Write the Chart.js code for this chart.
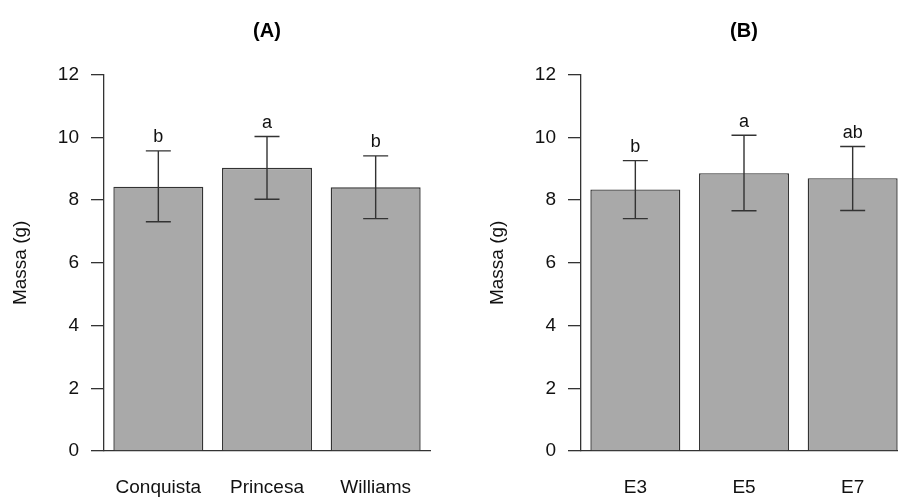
<!DOCTYPE html>
<html>
<head>
<meta charset="utf-8">
<script src="https://cdn.jsdelivr.net/npm/chart.js@4"></script>
<style>
  html, body { margin: 0; padding: 0; background: #fff; }
  #wrap { position: relative; width: 898px; height: 497px; overflow: hidden; }
  canvas { position: absolute; top: 0; }
  #chartA { left: 0; }
  #chartB { left: 477px; }
</style>
</head>
<body>
<div id="wrap">
  <canvas id="chartA" width="449" height="497"></canvas>
  <canvas id="chartB" width="449" height="497"></canvas>
</div>
<script>
// Panel A - cultivars
const cultivars = ['Conquista', 'Princesa', 'Williams'];
const massA = [8.43, 9.03, 8.41];
const lowerA = [7.31, 8.03, 7.41];
const upperA = [9.57, 10.03, 9.41];
const lettersA = ['b', 'a', 'b'];

// Panel B - stages
const stages = ['E3', 'E5', 'E7'];
const massB = [8.34, 8.86, 8.70];
const lowerB = [7.41, 7.66, 7.67];
const upperB = [9.26, 10.07, 9.71];
const lettersB = ['b', 'a', 'ab'];

const yTicks = [0, 2, 4, 6, 8, 10, 12];

Chart.defaults.font.family = '"Liberation Sans", Arial, sans-serif';

const ink = '#333';

// error bars, significance letters and panel title
const extras = {
    id: 'extras',
    afterDatasetsDraw(chart, args, opts) {
        const ctx = chart.ctx;
        const y = chart.scales.y;
        const meta = chart.getDatasetMeta(0);
        ctx.save();
        ctx.strokeStyle = ink;
        ctx.lineWidth = 1.4;
        ctx.fillStyle = '#111';
        ctx.textAlign = 'center';
        meta.data.forEach((bar, i) => {
            const x = bar.x;
            const yl = y.getPixelForValue(opts.lower[i]);
            const yu = y.getPixelForValue(opts.upper[i]);
            ctx.beginPath();
            ctx.moveTo(x, yl); ctx.lineTo(x, yu);
            ctx.moveTo(x - 12.5, yl); ctx.lineTo(x + 12.5, yl);
            ctx.moveTo(x - 12.5, yu); ctx.lineTo(x + 12.5, yu);
            ctx.stroke();
            ctx.font = '18px "Liberation Sans", Arial, sans-serif';
            ctx.textBaseline = 'alphabetic';
            ctx.fillText(opts.letters[i], x, yu - 8.5);
        });
        const a = chart.chartArea;
        ctx.font = 'bold 20px "Liberation Sans", Arial, sans-serif';
        ctx.textBaseline = 'middle';
        ctx.fillStyle = '#000';
        ctx.fillText(opts.title, (a.left + a.right) / 2, 31);
        ctx.restore();
    }
};

function makeChart(id, labels, values, lower, upper, letters, title) {
    return new Chart(document.getElementById(id), {
        type: 'bar',
        data: {
            labels: labels,
            datasets: [{
                data: values,
                backgroundColor: '#a9a9a9',
                borderColor: ink,
                borderWidth: 1.4,
                barPercentage: 0.828,
                categoryPercentage: 1
            }]
        },
        options: {
            responsive: false,
            animation: false,
            layout: { padding: { top: 74.7, left: 0, right: 19, bottom: 0 } },
            plugins: {
                legend: { display: false },
                tooltip: { enabled: false },
                extras: { lower: lower, upper: upper, letters: letters, title: title }
            },
            scales: {
                x: {
                    grid: { display: false, drawTicks: false },
                    border: { display: true, color: ink, width: 1.3 },
                    ticks: {
                        color: '#111',
                        font: { size: 19 },
                        padding: 25,
                        maxRotation: 0,
                        autoSkip: false
                    },
                    afterFit(s) { s.height = 46; }
                },
                y: {
                    min: 0,
                    max: 12,
                    afterBuildTicks(s) { s.ticks = yTicks.map(v => ({ value: v })); },
                    grid: { drawOnChartArea: false, drawTicks: true, tickLength: 13, color: ink, lineWidth: 1.3 },
                    border: { display: true, color: ink, width: 1.3 },
                    ticks: { color: '#111', font: { size: 19 }, padding: 12 },
                    title: {
                        display: true,
                        text: 'Massa (g)',
                        color: '#111',
                        font: { size: 19 },
                        padding: { top: 9, bottom: 0 }
                    },
                    afterFit(s) { s.width = 104; }
                }
            }
        },
        plugins: [extras]
    });
}

makeChart('chartA', cultivars, massA, lowerA, upperA, lettersA, '(A)');
makeChart('chartB', stages, massB, lowerB, upperB, lettersB, '(B)');
</script>
</body>
</html>
